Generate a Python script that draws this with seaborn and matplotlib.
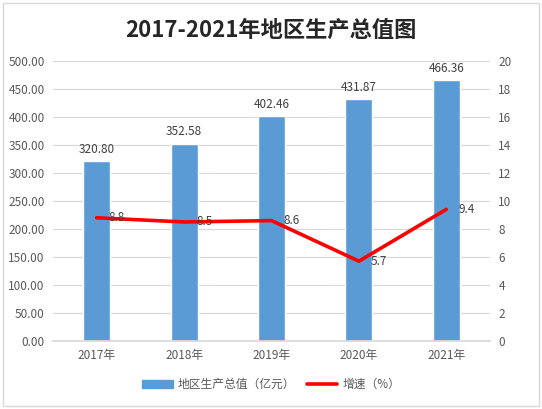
import matplotlib
matplotlib.use("Agg")
import matplotlib.pyplot as plt
import seaborn as sns
import pandas as pd
from matplotlib.patches import Rectangle
from matplotlib.lines import Line2D
from matplotlib.patches import Patch

# data
years = ["2017年", "2018年", "2019年", "2020年", "2021年"]
gdp = [320.80, 352.58, 402.46, 431.87, 466.36]
growth = [8.8, 8.5, 8.6, 5.7, 9.4]

df = pd.DataFrame({"year": years, "gdp": gdp, "growth": growth})

sns.set_theme(style="white")
plt.rcParams["font.family"] = ["Noto Sans CJK SC", "DejaVu Sans"]

bar_color = "#5B9BD5"
text_grey = "#595959"
grid_grey = "#D9D9D9"

fig = plt.figure(figsize=(5.42, 4.09), dpi=100)
ax = fig.add_axes([0.0978, 0.1663, 0.8063, 0.6846])

sns.barplot(data=df, x="year", y="gdp", color=bar_color, width=0.31,
            saturation=1, ax=ax, zorder=2)
ax.set_ylim(0, 500)
ax.set_yticks(range(0, 501, 50))
ax.set_yticklabels([f"{v:.2f}" for v in range(0, 501, 50)])
ax.set_xlim(-0.5, len(years) - 0.5)
ax.grid(axis="y", color=grid_grey, linewidth=0.9, zorder=0)
ax.set_axisbelow(True)
for s in ["top", "left", "right"]:
    ax.spines[s].set_visible(False)
ax.spines["bottom"].set_color(grid_grey)
ax.tick_params(axis="both", length=0, labelsize=8.5, colors=text_grey, pad=6)
ax.set_xlabel("")
ax.set_ylabel("")

for i, v in enumerate(gdp):
    ax.text(i, v + 9, f"{v:.2f}", ha="center", va="bottom",
            fontsize=8.5, color="#404040")

ax2 = ax.twinx()
sns.lineplot(data=df, x="year", y="growth", color="#FF0000", linewidth=2.6,
             ax=ax2, sort=False)
ax2.set_ylim(0, 20)
ax2.set_yticks(range(0, 21, 2))
ax2.set_xlim(-0.5, len(years) - 0.5)
for s in ["top", "left", "right", "bottom"]:
    ax2.spines[s].set_visible(False)
ax2.tick_params(axis="y", length=0, labelsize=8.5, colors=text_grey, pad=6)
ax2.set_ylabel("")
ax2.grid(False)

for i, v in enumerate(growth):
    ax2.text(i + 0.14, v, f"{v}", ha="left", va="center",
             fontsize=8.5, color="#404040")

fig.suptitle("2017-2021年地区生产总值图", x=0.5, y=0.955, fontsize=16,
             fontweight="bold", color="#262626")

handles = [Patch(facecolor=bar_color, edgecolor=bar_color),
           Line2D([0], [0], color="#FF0000", linewidth=2.6)]
fig.legend(handles, ["地区生产总值（亿元）", "增速（%）"], loc="center",
           bbox_to_anchor=(0.5, 0.06), ncol=2, frameon=False, fontsize=8.5,
           labelcolor=text_grey, handlelength=2.6, handleheight=0.7,
           columnspacing=1.0, handletextpad=0.4)

fig.patches.append(Rectangle((0.006, 0.008), 0.988, 0.984, transform=fig.transFigure,
                             fill=False, edgecolor="#D9D9D9", linewidth=1))

fig.savefig("out.png", dpi=100, facecolor="white")
